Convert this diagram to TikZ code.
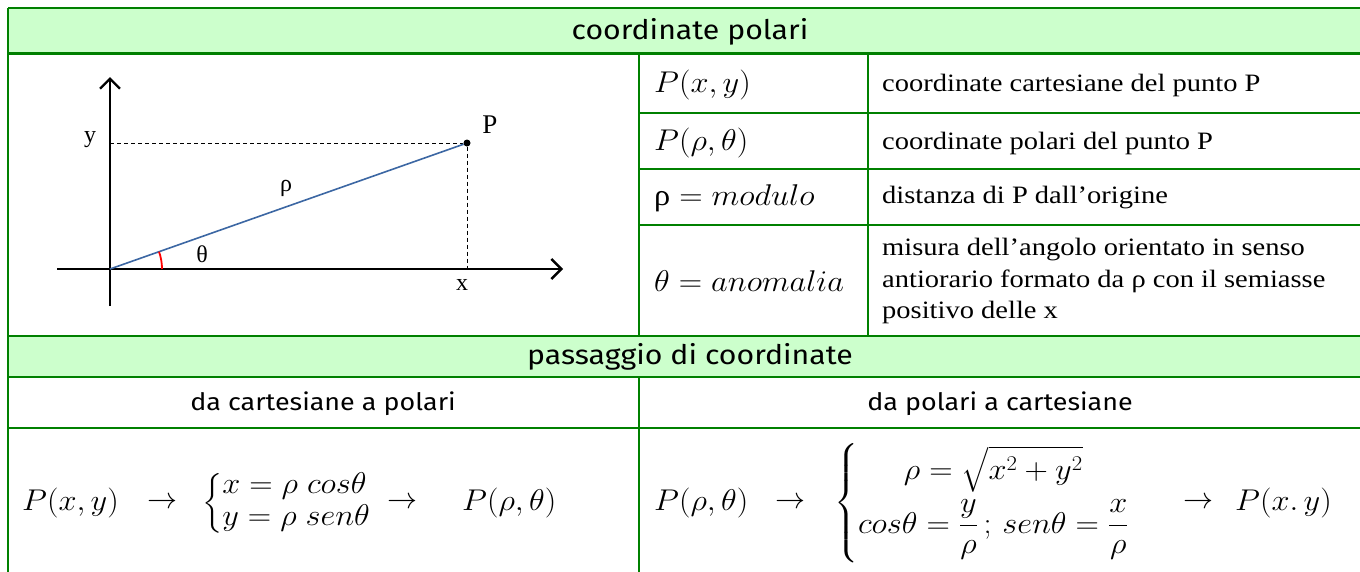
\RequirePackage{fix-cm}
\documentclass[tikz,border=0pt]{standalone}
\usepackage{amsmath}
\usepackage{graphicx}
\usepackage[no-math]{fontspec}
\setmainfont{Liberation Serif}
\newfontfamily\headfont[FakeStretch=1.12]{Fira Sans}
\newfontfamily\descfont[FakeStretch=1.14]{Liberation Serif}
\newfontfamily\rhofont{Liberation Serif}
\usetikzlibrary{arrows.meta}
\definecolor{gridgreen}{HTML}{008000}
\definecolor{hdrfill}{HTML}{CCFFCC}
\definecolor{rhoblue}{HTML}{3C67A3}
\newcommand{\mth}[1]{\scalebox{1.08}[1]{#1}}
\tikzset{
  gridline/.style={draw=gridgreen, line width=2.2pt},
  hdrtext/.style={font=\headfont\fontsize{27}{30}\selectfont, inner sep=0pt},
  subtext/.style={font=\headfont\fontsize{24}{28}\selectfont, inner sep=0pt},
  desc/.style={font=\descfont\fontsize{25}{31.5}\selectfont, inner sep=0pt, anchor=west, align=left},
  frm/.style={font=\fontsize{30}{36}\selectfont, inner sep=0pt},
  lbl/.style={font=\fontsize{24}{26}\selectfont, inner sep=0pt},
  axis/.style={line width=2.4pt, -{Straight Barb[length=10pt,width=20pt,line width=2.4pt]}},
  guide/.style={line width=1pt, dash pattern=on 4pt off 3pt},
}
\begin{document}
\begin{tikzpicture}[x=1pt,y=-1pt]
\useasboundingbox (0,0) rectangle (1360,571);
\begin{scope}
\clip (0,0) rectangle (1360,571);
% header fills
\fill[hdrfill] (8,8) rectangle (1370,53);
\fill[hdrfill] (8,336) rectangle (1370,377);
% grid
\draw[gridline] (8,8) -- (1370,8);
\draw[gridline, line width=3pt] (8,53) -- (1370,53);
\draw[gridline] (8,8) -- (8,580);
\draw[gridline] (639,53) -- (639,336);
\draw[gridline] (868,53) -- (868,336);
\draw[gridline] (639,113) -- (1370,113);
\draw[gridline] (639,169) -- (1370,169);
\draw[gridline] (639,225) -- (1370,225);
\draw[gridline] (8,336) -- (1370,336);
\draw[gridline] (8,377) -- (1370,377);
\draw[gridline] (8,428) -- (1370,428);
\draw[gridline] (639,377) -- (639,580);
\end{scope}

% headers
\node[hdrtext] (h1) at (690,32) {coordinate polari};
\node[hdrtext] (h2) at (690,357) {passaggio di coordinate};
\node[subtext] (s1) at (323,404) {da cartesiane a polari};
\node[subtext] (s2) at (1000,404) {da polari a cartesiane};

% polar diagram
\coordinate (O) at (110,269);
\coordinate (yb) at (110,306);
\coordinate (yt) at (110,77);
\coordinate (xl) at (57,269);
\coordinate (xr) at (563,269);
\coordinate (Py) at (110,143);
\coordinate (Px) at (467,269);
\draw[axis] (yb) -- (yt);
\draw[axis] (xl) -- (xr);
\node[circle, fill=black, inner sep=0pt, minimum size=7pt] (P) at (467,143) {};
\draw[guide] (Py) -- (P);
\draw[guide] (P) -- (Px);
\draw[rhoblue, line width=1.6pt] (O) -- (P);
\draw[red, line width=1.8pt] ([shift={(0:52)}]O) arc[start angle=0, end angle=-19.4, radius=52];
\node[lbl] (ly) at (90,140) {y};
\node[lbl, font=\fontsize{27}{28}\selectfont] (lP) at (490,125) {P};
\node[lbl] (lrho) at (286,188) {ρ};
\node[lbl] (lth) at (202,254) {θ};
\node[lbl] (lx) at (462,285) {x};

% right table
\node[frm, anchor=west] (f1) at (654,85) {\mth{$P(x,y)$}};
\node[frm, anchor=west] (f2) at (654,143) {\mth{$P(\rho,\theta)$}};
\node[frm, anchor=west] (f3) at (654,198) {\mth{{\rhofont ρ}${}=modulo$}};
\node[frm, anchor=west] (f4) at (654,281) {\mth{$\theta=anomalia$}};
\node[desc] (d1) at (882,85) {coordinate cartesiane del punto P};
\node[desc] (d2) at (882,143) {coordinate polari del punto P};
\node[desc] (d3) at (882,198) {distanza di P dall’origine};
\node[desc] (d4) at (882,281) {misura dell’angolo orientato in senso\\antiorario formato da ρ con il semiasse\\positivo delle x};

% bottom left formula
\node[frm, anchor=west] (b1) at (22,503) {\mth{$P(x,y)$}};
\node[frm] (a1) at (162,503) {$\rightarrow$};
\node[frm, anchor=west] (c1) at (202,503) {\mth{\renewcommand{\arraystretch}{0.88}$\left\{\begin{array}{@{}l@{}} x=\rho\; cos\theta\\ y=\rho\; sen\theta\end{array}\right.$}};
\node[frm] (a2) at (402,503) {$\rightarrow$};
\node[frm, anchor=west] (b2) at (462,503) {\mth{$P(\rho,\theta)$}};

% bottom right formula
\node[frm, anchor=west] (b3) at (654,503) {\mth{$P(\rho,\theta)$}};
\node[frm] (a3) at (790,503) {$\rightarrow$};
\node[frm, anchor=west] (c2) at (834,503) {\mth{$\left\{\begin{array}{@{}c@{}} \rho=\sqrt{x^2+y^2}\\[10pt] cos\theta=\dfrac{y}{\rho}\,;\, sen\theta=\dfrac{x}{\rho}\end{array}\right.$}};
\node[frm] (a4) at (1198,503) {$\rightarrow$};
\node[frm, anchor=west] (b4) at (1235,503) {\mth{$P(x.\,y)$}};
\end{tikzpicture}
\end{document}
